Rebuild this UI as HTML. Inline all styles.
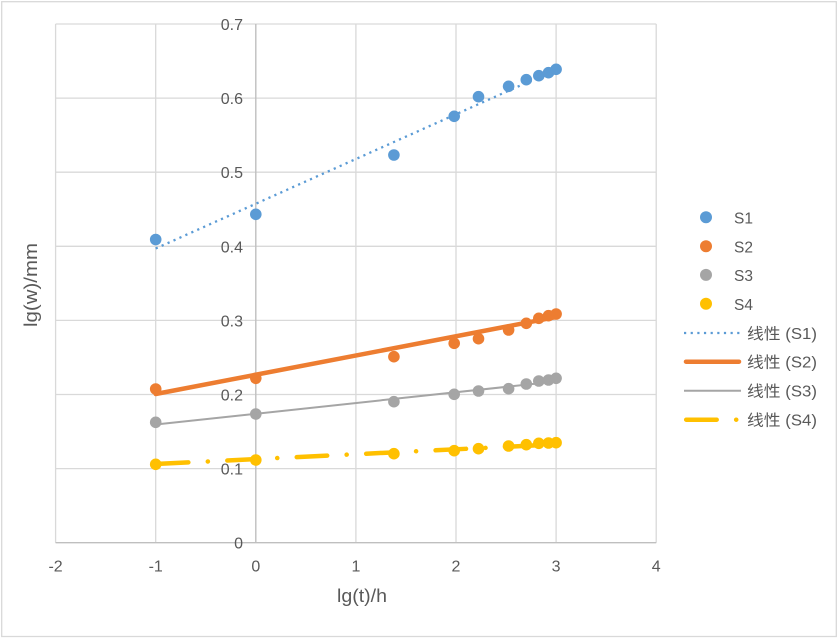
<!DOCTYPE html>
<html><head><meta charset="utf-8"><style>
html,body{margin:0;padding:0;background:#fff;}
svg{display:block;}
text{font-family:"Liberation Sans","Noto Sans CJK SC",sans-serif;fill:#595959;}
</style></head><body>
<svg width="838" height="638" viewBox="0 0 838 638" xmlns="http://www.w3.org/2000/svg">
<rect x="0" y="0" width="838" height="638" fill="#fff"/>
<rect x="1.7" y="1.7" width="834.6" height="634.8" fill="none" stroke="#D9D9D9" stroke-width="1.3"/>
<!-- gridlines -->
<g stroke="#D9D9D9" stroke-width="1.3" fill="none">
<line x1="55.6" y1="24" x2="656.2" y2="24"/>
<line x1="55.6" y1="98.1" x2="656.2" y2="98.1"/>
<line x1="55.6" y1="172.2" x2="656.2" y2="172.2"/>
<line x1="55.6" y1="246.3" x2="656.2" y2="246.3"/>
<line x1="55.6" y1="320.4" x2="656.2" y2="320.4"/>
<line x1="55.6" y1="394.5" x2="656.2" y2="394.5"/>
<line x1="55.6" y1="468.6" x2="656.2" y2="468.6"/>
<line x1="55.6" y1="24" x2="55.6" y2="542.7"/>
<line x1="155.7" y1="24" x2="155.7" y2="542.7"/>
<line x1="355.9" y1="24" x2="355.9" y2="542.7"/>
<line x1="456.0" y1="24" x2="456.0" y2="542.7"/>
<line x1="556.1" y1="24" x2="556.1" y2="542.7"/>
<line x1="656.2" y1="24" x2="656.2" y2="542.7"/>
</g>
<g stroke="#BFBFBF" stroke-width="1.4">
<line x1="55.6" y1="542.7" x2="656.2" y2="542.7"/>
<line x1="255.8" y1="24" x2="255.8" y2="542.7"/>
</g>
<!-- y tick labels -->
<g font-size="16" text-anchor="end">
<text x="243" y="30">0.7</text>
<text x="243" y="104.1">0.6</text>
<text x="243" y="178.2">0.5</text>
<text x="243" y="252.3">0.4</text>
<text x="243" y="326.4">0.3</text>
<text x="243" y="400.5">0.2</text>
<text x="243" y="474.6">0.1</text>
<text x="243" y="548.7">0</text>
</g>
<!-- x tick labels -->
<g font-size="16" text-anchor="middle">
<text x="55.6" y="571.5">-2</text>
<text x="155.7" y="571.5">-1</text>
<text x="255.8" y="571.5">0</text>
<text x="355.9" y="571.5">1</text>
<text x="456.0" y="571.5">2</text>
<text x="556.1" y="571.5">3</text>
<text x="656.2" y="571.5">4</text>
</g>
<!-- axis titles -->
<text x="362" y="602" font-size="18" text-anchor="middle" textLength="50" lengthAdjust="spacingAndGlyphs">lg(t)/h</text>
<text transform="translate(37,285) rotate(-90)" font-size="18" text-anchor="middle" textLength="84" lengthAdjust="spacingAndGlyphs">lg(w)/mm</text>
<!-- markers -->
<g fill="#5B9BD5">
<circle cx="155.7" cy="239.5" r="5.8"/><circle cx="255.8" cy="214.3" r="5.8"/><circle cx="393.9" cy="155" r="5.8"/><circle cx="454.2" cy="116.3" r="5.8"/><circle cx="478.5" cy="96.7" r="5.8"/><circle cx="508.6" cy="86.3" r="5.8"/><circle cx="526.3" cy="79.7" r="5.8"/><circle cx="538.8" cy="75.7" r="5.8"/><circle cx="548.5" cy="72.7" r="5.8"/><circle cx="556.1" cy="69.3" r="5.8"/>
</g>
<g fill="#ED7D31">
<circle cx="155.7" cy="389" r="5.8"/><circle cx="255.8" cy="378.3" r="5.8"/><circle cx="393.9" cy="356.7" r="5.8"/><circle cx="454.2" cy="343.3" r="5.8"/><circle cx="478.5" cy="338.7" r="5.8"/><circle cx="508.6" cy="330" r="5.8"/><circle cx="526.3" cy="323.3" r="5.8"/><circle cx="538.8" cy="318.3" r="5.8"/><circle cx="548.5" cy="315.7" r="5.8"/><circle cx="556.1" cy="314" r="5.8"/>
</g>
<g fill="#A5A5A5">
<circle cx="155.7" cy="422.3" r="5.8"/><circle cx="255.8" cy="414" r="5.8"/><circle cx="393.9" cy="401.7" r="5.8"/><circle cx="454.2" cy="394.3" r="5.8"/><circle cx="478.5" cy="391" r="5.8"/><circle cx="508.6" cy="388.7" r="5.8"/><circle cx="526.3" cy="384" r="5.8"/><circle cx="538.8" cy="381" r="5.8"/><circle cx="548.5" cy="380" r="5.8"/><circle cx="556.1" cy="378.3" r="5.8"/>
</g>
<g fill="#FFC000">
<circle cx="155.7" cy="464.3" r="5.8"/><circle cx="255.8" cy="460" r="5.8"/><circle cx="393.9" cy="453.7" r="5.8"/><circle cx="454.2" cy="450.7" r="5.8"/><circle cx="478.5" cy="448.7" r="5.8"/><circle cx="508.6" cy="446" r="5.8"/><circle cx="526.3" cy="444.7" r="5.8"/><circle cx="538.8" cy="443.3" r="5.8"/><circle cx="548.5" cy="443" r="5.8"/><circle cx="556.1" cy="442.7" r="5.8"/>
</g>
<!-- trendlines -->
<line x1="155.7" y1="248.5" x2="556.1" y2="69.5" stroke="#5B9BD5" stroke-width="2.3" stroke-dasharray="2.2 4.3"/>
<line x1="155.7" y1="394" x2="556.1" y2="317" stroke="#ED7D31" stroke-width="4.5" stroke-linecap="round"/>
<line x1="155.7" y1="424.5" x2="556.1" y2="381.5" stroke="#A5A5A5" stroke-width="2"/>
<line x1="157.9" y1="463.9" x2="556.1" y2="444.4" stroke="#FFC000" stroke-width="4.5" stroke-linecap="round" stroke-dasharray="30.5 19.45 0.1 19.45"/>
<!-- legend -->
<circle cx="706" cy="217.3" r="6" fill="#5B9BD5"/>
<circle cx="706" cy="246.2" r="6" fill="#ED7D31"/>
<circle cx="706" cy="274.9" r="6" fill="#A5A5A5"/>
<circle cx="706" cy="303.8" r="6" fill="#FFC000"/>
<g font-size="15.5">
<text x="734" y="223.5">S1</text>
<text x="734" y="252.4">S2</text>
<text x="734" y="281.1">S3</text>
<text x="734" y="310">S4</text>
<text x="747" y="339" textLength="70" lengthAdjust="spacingAndGlyphs">线性 (S1)</text>
<text x="747" y="367.7" textLength="70" lengthAdjust="spacingAndGlyphs">线性 (S2)</text>
<text x="747" y="396.7" textLength="70" lengthAdjust="spacingAndGlyphs">线性 (S3)</text>
<text x="747" y="425.7" textLength="70" lengthAdjust="spacingAndGlyphs">线性 (S4)</text>
</g>
<line x1="684" y1="333" x2="741" y2="333" stroke="#5B9BD5" stroke-width="2.3" stroke-dasharray="2.2 4.45"/>
<line x1="686" y1="361.7" x2="739" y2="361.7" stroke="#ED7D31" stroke-width="4.5" stroke-linecap="round"/>
<line x1="684" y1="390.7" x2="741" y2="390.7" stroke="#A5A5A5" stroke-width="2"/>
<line x1="686.2" y1="419.7" x2="741" y2="419.7" stroke="#FFC000" stroke-width="4.5" stroke-linecap="round" stroke-dasharray="30.5 19.45 0.1 19.45"/>
</svg>
</body></html>
